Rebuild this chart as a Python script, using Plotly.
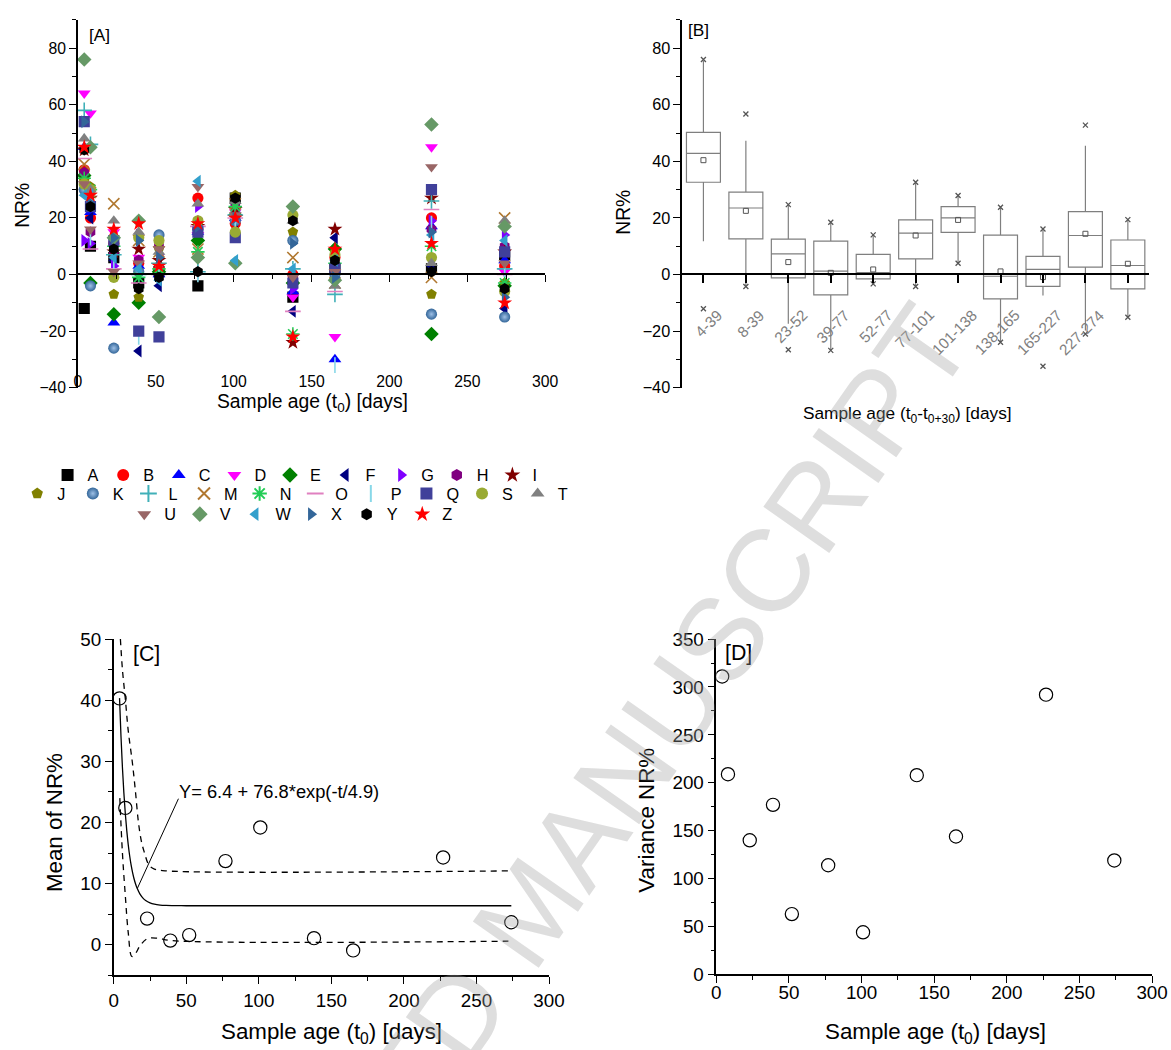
import math
import plotly.graph_objects as go

FONT = "Arial, Liberation Sans, sans-serif"

# ---------------- DATA ----------------
ages = [4, 8, 23, 39, 52, 77, 101, 138, 165, 227, 274]

# Panel A: NR% per sample (values at the 11 sample ages)
nr_A = [-12, 10, 6, -3, 1, -4, 27, -8, 2, 2, 7]
nr_B = [37, 20, 11, 4, 2, 27, 18, 0, 6, 20, 3]
nr_C = [45, 22, -17, 3, 0, 15, 20, -6, -30, 17, 5]
nr_D = [64, 57, 15, 6, 3, 14, 22, -8, -22, 45, 1]
nr_E = [35, -3, -14, -10, 1, 12, 21, -3, 9, -21, -4]
nr_F = [30, 20, 5, -27, -4, 16, 19, -13, 13, 3, -12]
nr_G = [12, 11, 3, 14, 7, 24, 22, -5, 1, 19, 14]
nr_H = [36, 15, 8, 5, 10, 19, 24, -1, 3, 16, 10]
nr_I = [44, 27, 8, 9, 5, 17, 23, -24, 16, 27, 8]
nr_J = [33, 31, -7, -8, 9, 18, 28, 15, 8, -7, -3]
nr_K = [30, -4, -26, 1, 14, 16, 19, 12, 0, -14, -15]
nr_L = [58, 46, 7, 0, 4, 1, 21, 2, -7, 26, 2]
nr_M = [39, 29, 25, 12, 8, 9, 25, 6, -3, -1, 20]
nr_N = [34, 30, 10, -1, 2, 8, 24, -21, 4, 10, -3]
nr_O = [41, 9, 2, -3, 0, 17, 20, -13, -6, 23, 0]
nr_P = [47, 13, 4, -22, 1, 0, 17, 1, -32, 18, 2]
nr_Q = [54, 24, 12, -20, -22, 15, 13, -3, 2, 30, 8]
nr_S = [32, 30, -1, 13, 12, 19, 15, 21, 7, 6, -6]
nr_T = [48, 30, 19, 15, 8, 25, 26, 19, -4, 4, 19]
nr_U = [32, 16, 1, 4, 9, 31, 21, -1, 1, 38, 4]
nr_V = [76, 45, 13, 19, -15, 6, 4, 24, -2, 53, 17]
nr_W = [28, 28, 6, 2, -2, 33, 5, 2, 5, 14, 12]
nr_X = [54, 25, 13, 12, 6, 17, 20, 11, -1, 15, -8]
nr_Y = [44, 24, 9, -5, -1, 1, 27, 19, 5, 1, -5]
nr_Z = [45, 28, 16, 18, 3, 18, 20, -22, 9, 11, -10]

# Panel B: box statistics per age window
box_labels = ["4-39", "8-39", "23-52", "39-77", "52-77", "77-101", "101-138",
              "138-165", "165-227", "227-274", "274-304"]
box_q1 = [32.6, 12.6, -1.2, -7.2, -1.5, 5.5, 14.9, -8.6, -4.2, 2.6, -5.1]
box_median = [42.8, 23.5, 7.3, 1.2, 0.7, 14.6, 20.0, -0.6, 1.8, 13.8, 3.2]
box_q3 = [50.2, 29.1, 12.5, 11.8, 7.1, 19.3, 24.0, 13.9, 6.4, 22.2, 12.2]
box_low = [11.8, -4.2, -17.4, -26.8, -3.5, -4.2, 4.0, -23.9, -7.4, -19.8, -15.1]
box_high = [75.5, 47.3, 24.7, 18.5, 14.0, 32.6, 27.9, 23.8, 16.1, 45.5, 19.4]
box_mean = [40.4, 22.5, 4.4, 0.6, 1.8, 13.8, 19.3, 1.1, -0.9, 14.4, 3.8]
box_max = [76.0, 56.7, 24.7, 18.5, 14.0, 32.6, 27.9, 23.8, 16.1, 52.8, 19.4]
box_min = [-12.1, -4.2, -26.6, -26.8, -3.3, -4.2, 4.0, -23.9, -32.4, -21.0, -15.1]

# Panel C: mean NR%, fitted curve and confidence band
mean_nr = [40.3, 22.4, 4.3, 0.7, 1.6, 13.7, 19.2, 1.1, -0.9, 14.3, 3.7]
fit_y0, fit_a, fit_tau = 6.4, 76.8, 4.9
fit_t = [4, 5, 6, 7, 8, 9, 10, 11, 12, 13, 14, 15, 16, 18, 20, 22, 25, 28, 32,
         36, 40, 50, 60, 80, 120, 160, 200, 240, 274]
band_up_t = [4.6, 6, 8, 10, 12.8, 15, 17, 19, 21, 24.4, 28, 36, 274]
band_up_y = [50, 45, 40.2, 35, 29.9, 25, 20.1, 17, 15.2, 13.0, 12.4, 12.1, 12.1]
band_lo_t = [4.2, 6, 8, 10, 12.5, 15, 18, 23, 30, 40, 272]
band_lo_y = [24, 15, 8, 2, -1.9, -1.4, -0.2, 1.0, 1.1, 0.7, 0.6]

# Panel D: variance
var_nr = [311, 209, 140, 177, 63, 114, 44, 208, 144, 292, 119]

# ---------------- STYLE ----------------
series = [
    ("A", nr_A, "square", "#000000", "legend"),
    ("B", nr_B, "circle", "#FF0000", "legend"),
    ("C", nr_C, "triangle-up", "#0000FF", "legend"),
    ("D", nr_D, "triangle-down", "#FF00FF", "legend"),
    ("E", nr_E, "diamond", "#008000", "legend"),
    ("F", nr_F, "triangle-left", "#000080", "legend"),
    ("G", nr_G, "triangle-right", "#8000FF", "legend"),
    ("H", nr_H, "hexagon", "#800080", "legend"),
    ("I", nr_I, "star", "#800000", "legend"),
    ("J", nr_J, "pentagon", "#808000", "legend2"),
    ("K", nr_K, "circle", "#336699", "legend2"),
    ("L", nr_L, "cross-thin-open", "#40B0B8", "legend2"),
    ("M", nr_M, "x-thin-open", "#B07830", "legend2"),
    ("N", nr_N, "asterisk-open", "#22CC55", "legend2"),
    ("O", nr_O, "line-ew-open", "#E080C0", "legend2"),
    ("P", nr_P, "line-ns-open", "#88D8E8", "legend2"),
    ("Q", nr_Q, "square", "#40409A", "legend2"),
    ("S", nr_S, "circle", "#99AA33", "legend2"),
    ("T", nr_T, "triangle-up", "#808080", "legend2"),
    ("U", nr_U, "triangle-down", "#996666", "legend3"),
    ("V", nr_V, "diamond", "#669966", "legend3"),
    ("W", nr_W, "triangle-left", "#33A0CC", "legend3"),
    ("X", nr_X, "triangle-right", "#336699", "legend3"),
    ("Y", nr_Y, "hexagon", "#000000", "legend3"),
    ("Z", nr_Z, "star", "#FF0000", "legend3"),
]

# Page-to-picture mapping observed for this viewer: picture = S*(fig+8) + offset
S, OX, OY, M = 0.984, -4.0, 0.6, 8
W, H = 1182, 1060
K = 1 / S
def fx(p):  # reference picture x -> figure px
    return (p - OX) / S - M
def fy(p):
    return (p - OY) / S - M
def px_x(p):
    return fx(p) / W
def px_y(p):
    return 1 - fy(p) / H

domA_x = [px_x(77), px_x(545)]
domB_x = [px_x(682.3), px_x(1150)]
domAB_y = [px_y(387.7), px_y(18.3)]
domC_x = [px_x(112.8), px_x(548.9)]
domD_x = [px_x(716.5), px_x(1153)]
domC_y = [px_y(977.7), px_y(640)]
domD_y = [px_y(976.7), px_y(640)]
zero_pos = px_y(274)

fig = go.Figure()

# ---- Panel A ----
for name, vals, sym, col, leg in series:
    is_line = sym.endswith("-open")
    marker = dict(symbol=sym, size=11 * K, color=col,
                  line=dict(width=1.6 if is_line else 0, color=col))
    if name == "K":
        marker["gradient"] = dict(type="radial", color="#9EC0E6")
    fig.add_trace(go.Scatter(x=ages, y=vals, mode="markers", name=name,
                             marker=marker, xaxis="x", yaxis="y",
                             legend=leg))
fig.add_trace(go.Scatter(x=[None], y=[None], xaxis="x5", yaxis="y",
                         showlegend=False, hoverinfo="skip"))

# ---- Panel B ----
xpos = list(range(len(box_labels)))
fig.add_trace(go.Box(x=xpos, q1=box_q1, median=box_median, q3=box_q3,
                     lowerfence=box_low, upperfence=box_high,
                     width=0.8, whiskerwidth=0, fillcolor="white",
                     line=dict(color="#7F7F7F", width=1.2),
                     boxpoints=False, showlegend=False,
                     xaxis="x2", yaxis="y2"))
fig.add_trace(go.Scatter(x=xpos, y=box_mean, mode="markers", showlegend=False,
                         marker=dict(symbol="square-open", size=5,
                                     color="#555555", line=dict(width=1)),
                         xaxis="x2", yaxis="y2"))
fig.add_trace(go.Scatter(x=xpos + xpos, y=box_max + box_min, mode="markers",
                         showlegend=False,
                         marker=dict(symbol="x-thin-open", size=5,
                                     color="#555555",
                                     line=dict(width=1.3, color="#555555")),
                         xaxis="x2", yaxis="y2"))

# ---- Panel C ----
fit_y = [fit_y0 + fit_a * math.exp(-t / fit_tau) for t in fit_t]
fig.add_trace(go.Scatter(x=fit_t, y=fit_y, mode="lines", showlegend=False,
                         line=dict(color="black", width=1.3),
                         line_shape="spline", xaxis="x3", yaxis="y3"))
fig.add_trace(go.Scatter(x=band_up_t, y=band_up_y, mode="lines", showlegend=False,
                         line=dict(color="black", width=1.3, dash="6px,5px"),
                         line_shape="spline", xaxis="x3", yaxis="y3"))
fig.add_trace(go.Scatter(x=band_lo_t, y=band_lo_y, mode="lines", showlegend=False,
                         line=dict(color="black", width=1.3, dash="6px,5px"),
                         line_shape="spline", xaxis="x3", yaxis="y3"))
fig.add_trace(go.Scatter(x=ages, y=mean_nr, mode="markers", showlegend=False,
                         marker=dict(symbol="circle-open", size=13 * K, color="black",
                                     line=dict(width=1.2)),
                         xaxis="x3", yaxis="y3"))

# ---- Panel D ----
fig.add_trace(go.Scatter(x=ages, y=var_nr, mode="markers", showlegend=False,
                         marker=dict(symbol="circle-open", size=13 * K, color="black",
                                     line=dict(width=1.2)),
                         xaxis="x4", yaxis="y4"))

# ---------------- AXES ----------------
def tf(size, color="black"):
    return dict(family=FONT, size=size * K, color=color)

ax_common = dict(showgrid=False, zeroline=False, showline=True, linecolor="black",
                 linewidth=1.5, ticks="outside", tickcolor="black", tickwidth=1.3)
def minor(d):
    return dict(ticks="outside", ticklen=4, dtick=d, tick0=0,
                tickcolor="black", tickwidth=1.2)

fig.update_layout(
    xaxis=dict(domain=domA_x, anchor="y", range=[0, 300], showgrid=False,
               zeroline=False, showline=False, ticks="",
               tickvals=[0, 50, 100, 150, 200, 250, 300],
               tickfont=tf(15.5), ticklabelstandoff=-18),
    xaxis5=dict(overlaying="x", anchor="free", position=zero_pos, range=[0, 300],
                showgrid=False, zeroline=False, showline=True, linecolor="black",
                linewidth=1.5, ticks="outside", ticklen=7, tickwidth=1.3,
                tickcolor="black", dtick=50, tick0=0, showticklabels=False,
                minor=minor(25)),
    yaxis=dict(domain=domAB_y, anchor="x", range=[-40, 90],
               tickvals=[-40, -20, 0, 20, 40, 60, 80], ticklen=7,
               tickfont=tf(15.5), minor=minor(10), **ax_common),
    xaxis2=dict(domain=domB_x, anchor="free", position=zero_pos, range=[-0.5, 10.5],
                showgrid=False, zeroline=False, showline=True, linecolor="black",
                linewidth=1.5, ticks="outside", ticklen=8, tickwidth=2.2,
                tickcolor="black", tickvals=xpos, showticklabels=False),
    yaxis2=dict(domain=domAB_y, anchor="x2", range=[-40, 90],
                tickvals=[-40, -20, 0, 20, 40, 60, 80], ticklen=7,
                tickfont=tf(16), minor=minor(10), **ax_common),
    xaxis3=dict(domain=domC_x, anchor="y3", range=[0, 300], dtick=50, tick0=0,
                ticklen=7, tickfont=tf(18.5), minor=minor(25),
                ticklabelstandoff=0, **ax_common),
    yaxis3=dict(domain=domC_y, anchor="x3", range=[-5, 50], dtick=10, tick0=0,
                ticklen=7, tickfont=tf(18.5), minor=minor(5), **ax_common),
    xaxis4=dict(domain=domD_x, anchor="y4", range=[0, 300], dtick=50, tick0=0,
                ticklen=7, tickfont=tf(18.5), minor=minor(25),
                ticklabelstandoff=-7, **ax_common),
    yaxis4=dict(domain=domD_y, anchor="x4", range=[0, 350], dtick=50, tick0=0,
                ticklen=7, tickfont=tf(18.5), minor=minor(25), **ax_common),
)

# ---------------- LEGENDS ----------------
leg_common = dict(orientation="h", font=tf(16),
                  bgcolor="rgba(0,0,0,0)", borderwidth=0, entrywidth=10.6,
                  entrywidthmode="pixels", itemsizing="constant",
                  xanchor="left", yanchor="middle", tracegroupgap=0)
MARK_OFF = 16.6 + 4
fig.update_layout(
    legend=dict(x=(fx(66.8) - MARK_OFF) / W, y=px_y(475.7), **leg_common),
    legend2=dict(x=(fx(36.4) - MARK_OFF) / W, y=px_y(494.3), **leg_common),
    legend3=dict(x=(fx(143.6) - MARK_OFF) / W, y=px_y(515), **leg_common),
)

# ---------------- TEXT ----------------
def ann(text, x, y, size, angle=0, xanchor="center", color="black"):
    return dict(text=text, x=px_x(x), y=px_y(y), xref="paper", yref="paper",
                showarrow=False, textangle=angle, xanchor=xanchor, yanchor="middle",
                font=tf(size, color))

annotations = [
    ann("[A]", 86, 34, 17, xanchor="left"),
    ann("[B]", 686, 29, 17, xanchor="left"),
    ann("[C]", 130.4, 655, 21, xanchor="left"),
    ann("[D]", 723.5, 654, 21, xanchor="left"),
    ann("NR%", 22, 205, 19, angle=-90),
    ann("Sample age (t<sub>0</sub>) [days]", 311.7, 403, 19),
    ann("NR%", 624, 212, 19, angle=-90),
    ann("Sample age (t<sub>0</sub>-t<sub>0+30</sub>) [days]", 907.7, 415, 17),
    ann("Mean of NR%", 53.7, 824, 22, angle=-90),
    ann("Sample age (t<sub>0</sub>) [days]", 330.9, 1035, 22),
    ann("Variance NR%", 646.3, 822, 22, angle=-90),
    ann("Sample age (t<sub>0</sub>) [days]", 935.7, 1035, 22),
    dict(text="Y= 6.4 + 76.8*exp(-t/4.9)", x=43.5, y=25.1, xref="x3", yref="y3",
         showarrow=False, xanchor="left", yanchor="middle", font=tf(18)),
]
# rotated category labels of panel B
for i, lab in enumerate(box_labels):
    annotations.append(dict(text=lab, x=i + 0.58, y=-10.2, xref="x2", yref="y2",
                            showarrow=False, textangle=-45, xanchor="right",
                            yanchor="top", font=tf(15, "#808080")))
# watermark
annotations.append(dict(text="ACCEPTED MANUSCRIPT", x=px_x(529), y=px_y(912),
                        xref="paper", yref="paper", showarrow=False, textangle=-55,
                        xanchor="center", yanchor="middle",
                        font=tf(115, "rgba(160,160,160,0.35)")))
fig.update_layout(annotations=annotations)

fig.add_shape(type="line", x0=16.3, y0=9.25, x1=44.6, y1=23.9, xref="x3", yref="y3",
              line=dict(color="black", width=1))

fig.update_layout(width=W, height=H, autosize=False,
                  margin=dict(l=0, r=0, t=0, b=0),
                  paper_bgcolor="white", plot_bgcolor="white",
                  font=dict(family=FONT))

fig.write_html("out.html")
